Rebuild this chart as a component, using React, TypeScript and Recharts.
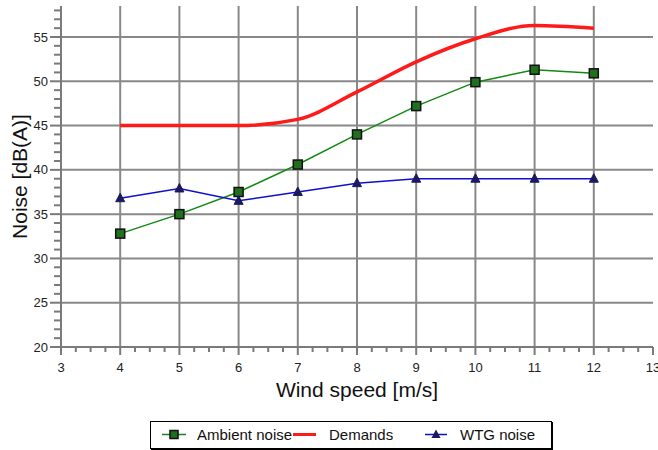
import { LineChart, Line, XAxis, YAxis, ReferenceLine } from 'recharts';

// wind speed [m/s]
const windSpeed = [4, 5, 6, 7, 8, 9, 10, 11, 12];
const ambientNoise = [32.8, 35.0, 37.5, 40.6, 44.0, 47.2, 49.9, 51.3, 50.9];
const demands = [45.0, 45.0, 45.0, 45.7, 48.8, 52.2, 54.8, 56.3, 56.0];
const wtgNoise = [36.8, 37.9, 36.5, 37.5, 38.5, 39.0, 39.0, 39.0, 39.0];

const xMajor = [3, 4, 5, 6, 7, 8, 9, 10, 11, 12, 13];
const yMajor = [20, 25, 30, 35, 40, 45, 50, 55];
const xGrid = [4, 5, 6, 7, 8, 9, 10, 11, 12];
const yGrid = [25, 30, 35, 40, 45, 50, 55];

// minor ticks: quarters on x, whole dB on y
const xTicks: number[] = [];
for (let i = 0; i <= 40; i++) xTicks.push(3 + i * 0.25);
const yTicks: number[] = [];
for (let v = 20; v <= 58; v++) yTicks.push(v);

const data = windSpeed.map((x, i) => ({
  x,
  ambient: ambientNoise[i],
  demands: demands[i],
  wtg: wtgNoise[i],
}));

const FONT = '"Liberation Sans", Arial, sans-serif';
const GRID = '#888888';
const AXIS = '#7a7a7a';

const XTick = (props: any) => {
  const { x, y, payload } = props;
  const major = xMajor.includes(payload.value);
  return (
    <g>
      <line x1={x} y1={y} x2={x} y2={y + (major ? 8 : 5)} stroke={AXIS} strokeWidth={2} />
      {major && (
        <text x={x} y={y + 25} textAnchor="middle" fontSize={13} fill="#222" fontFamily={FONT}>
          {payload.value}
        </text>
      )}
    </g>
  );
};

const YTick = (props: any) => {
  const { x, y, payload } = props;
  const major = yMajor.includes(payload.value);
  return (
    <g>
      <line x1={x - (major ? 11 : 7)} y1={y} x2={x} y2={y} stroke={AXIS} strokeWidth={2} />
      {major && (
        <text x={x - 13} y={y + 4.5} textAnchor="end" fontSize={13} fill="#222" fontFamily={FONT}>
          {payload.value}
        </text>
      )}
    </g>
  );
};

const SquareDot = (props: any) => {
  const { cx, cy } = props;
  if (cx == null || cy == null) return null;
  return <rect x={cx - 4.5} y={cy - 4.5} width={9} height={9} fill="#1f6f1f" stroke="#111" strokeWidth={1.5} />;
};

const TriangleDot = (props: any) => {
  const { cx, cy } = props;
  if (cx == null || cy == null) return null;
  return <path d={`M${cx},${cy - 5} L${cx + 4.5},${cy + 3.5} L${cx - 4.5},${cy + 3.5} Z`} fill="#1a1a60" stroke="#1a1a60" strokeWidth={1} />;
};

const YLabel = (props: any) => {
  const vb = props.viewBox || { x: 0, y: 6, width: 61, height: 341 };
  const cx = vb.x + 19;
  const cy = vb.y + vb.height / 2;
  return (
    <text x={cx} y={cy} transform={`rotate(-90 ${cx} ${cy})`} textAnchor="middle" dominantBaseline="central" fontSize={21} fill="#111" fontFamily={FONT}>
      Noise [dB(A)]
    </text>
  );
};

const XLabel = (props: any) => {
  const vb = props.viewBox || { x: 61, y: 347, width: 592, height: 103 };
  return (
    <text x={vb.x + vb.width / 2} y={vb.y + 50} textAnchor="middle" fontSize={21} fill="#111" fontFamily={FONT}>
      Wind speed [m/s]
    </text>
  );
};

function LegendBox() {
  const text = { position: 'absolute' as const, top: 4, fontSize: 15, fontFamily: FONT, color: '#111', lineHeight: '17px', whiteSpace: 'nowrap' as const };
  return (
    <div
      style={{
        position: 'absolute',
        left: 150,
        top: 421,
        width: 400,
        height: 26,
        border: '1px solid #000',
        boxShadow: '1px 1px 0 #000',
        background: '#fff',
      }}
    >
      <svg width={400} height={26} style={{ position: 'absolute', left: 0, top: 0 }}>
        <line x1={11} y1={12.5} x2={35} y2={12.5} stroke="#128a12" strokeWidth={1.5} />
        <rect x={19} y={8.5} width={8} height={8} fill="#1f6f1f" stroke="#111" strokeWidth={1.5} />
        <line x1={142} y1={12.5} x2={165} y2={12.5} stroke="#ff1a1a" strokeWidth={3} />
        <line x1={274} y1={12.5} x2={296} y2={12.5} stroke="#1010cc" strokeWidth={1.5} />
        <path d="M285,7.5 L289.5,16 L280.5,16 Z" fill="#1a1a60" />
      </svg>
      <span style={{ ...text, left: 46 }}>Ambient noise</span>
      <span style={{ ...text, left: 178 }}>Demands</span>
      <span style={{ ...text, left: 309 }}>WTG noise</span>
    </div>
  );
}

export default function App() {
  return (
    <div style={{ position: 'absolute', left: 0, top: 0, width: 658, height: 450, background: '#fff' }}>
      <LineChart width={658} height={450} data={data} margin={{ top: 6, right: 5, left: 0, bottom: 0 }}>
        {xGrid.map((v) => (
          <ReferenceLine key={`gx${v}`} x={v} stroke={GRID} strokeWidth={2} />
        ))}
        {yGrid.map((v) => (
          <ReferenceLine key={`gy${v}`} y={v} stroke={GRID} strokeWidth={2} />
        ))}
        <XAxis
          dataKey="x"
          type="number"
          domain={[3, 13]}
          ticks={xTicks}
          interval={0}
          height={103}
          tickSize={0}
          tickMargin={0}
          tickLine={false}
          tick={<XTick />}
          axisLine={{ stroke: AXIS, strokeWidth: 2 }}
          allowDataOverflow
          label={<XLabel />}
        />
        <YAxis
          type="number"
          domain={[20, 58.5]}
          ticks={yTicks}
          interval={0}
          width={61}
          tickSize={0}
          tickMargin={0}
          tickLine={false}
          tick={<YTick />}
          axisLine={{ stroke: AXIS, strokeWidth: 2 }}
          allowDataOverflow
          label={<YLabel />}
        />
        <Line type="monotone" dataKey="demands" stroke="#ff1a1a" strokeWidth={3.5} dot={false} isAnimationActive={false} />
        <Line type="linear" dataKey="ambient" stroke="#128a12" strokeWidth={1.5} dot={<SquareDot />} isAnimationActive={false} />
        <Line type="linear" dataKey="wtg" stroke="#1010cc" strokeWidth={1.5} dot={<TriangleDot />} isAnimationActive={false} />
      </LineChart>
      <LegendBox />
    </div>
  );
}
